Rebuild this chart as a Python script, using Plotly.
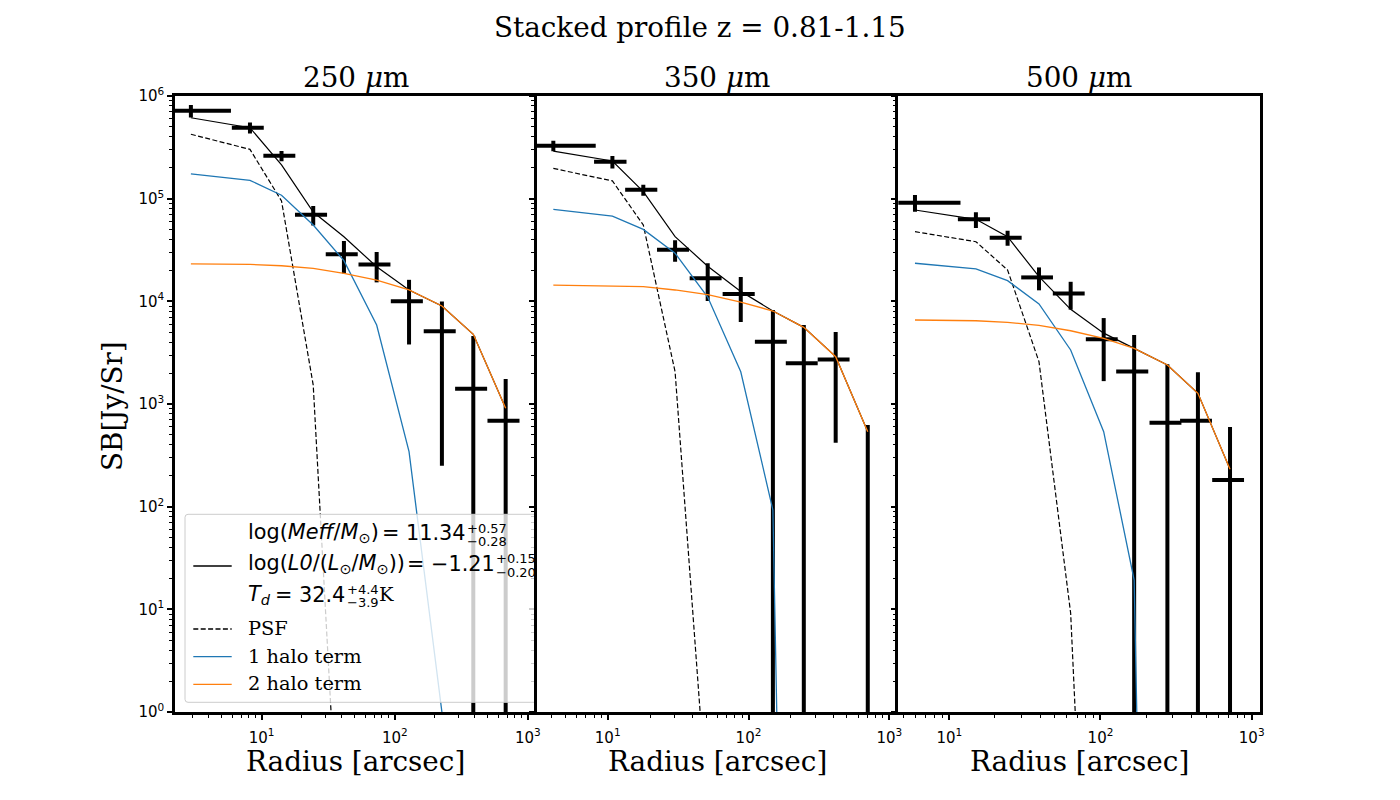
import plotly.graph_objects as go

# ---------------- data ----------------
# 250 micron
r250 = [2.94, 8.17, 14.1, 24.4, 41.5, 73.1, 128, 226, 389, 681]
xerr250 = [2.94, 2.2, 3.8, 6.6, 11.2, 19.7, 34.6, 61, 105, 184]
sb250 = [7.19e5, 4.91e5, 2.62e5, 6.98e4, 2.87e4, 2.28e4, 1.0e4, 5.1e3, 1.41e3, 687]
err250 = [1.0e5, 6.0e4, 3.0e4, 1.5e4, 1.0e4, 7.5e3, 6.2e3, 4.85e3, 3.18e3, 1.06e3]
tot250 = [6.14e5, 4.91e5, 2.13e5, 7.4e4, 4.26e4, 2.17e4, 1.29e4, 9.0e3, 4.77e3, 908]
halo1_250 = [1.74e5, 1.51e5, 1.08e5, 5.54e4, 2.49e4, 5.88e3, 343, 1.0, 0, 0]
halo2_250 = [2.32e4, 2.29e4, 2.22e4, 2.09e4, 1.87e4, 1.61e4, 1.29e4, 9.0e3, 4.77e3, 908]
psf250 = [4.24e5, 3.02e5, 9.5e4, 1.53e3, 5e-3, 0, 0, 0, 0, 0]

# 350 micron
r350 = [4.11, 10.8, 17.9, 30.1, 51.3, 88.1, 149, 247, 416, 703]
xerr350 = [4.11, 2.8, 4.6, 7.7, 13.1, 22.6, 38, 63, 106, 180]
sb350 = [3.28e5, 2.29e5, 1.22e5, 3.18e4, 1.68e4, 1.18e4, 4.04e3, 2.49e3, 2.72e3, -50]
err350 = [3.8e4, 3.2e4, 1.5e4, 7.5e3, 6.7e3, 5.5e3, 4.2e3, 3.4e3, 2.3e3, 674]
tot350 = [2.91e5, 2.33e5, 1.17e5, 4.26e4, 2.2e4, 1.25e4, 8.05e3, 5.58e3, 2.89e3, 537]
halo1_350 = [7.87e4, 6.77e4, 5.02e4, 2.94e4, 1.1e4, 2.06e3, 92.8, 0, 0, 0]
halo2_350 = [1.44e4, 1.42e4, 1.39e4, 1.29e4, 1.16e4, 9.84e3, 8.05e3, 5.58e3, 2.89e3, 537]
psf350 = [1.97e5, 1.49e5, 5.54e4, 2.06e3, 0.1, 0, 0, 0, 0, 0]

# 500 micron
r500 = [5.93, 15.0, 24.3, 39.2, 63.5, 105, 167, 277, 441, 719]
xerr500 = [5.93, 3.6, 5.8, 9.3, 15.1, 25, 40, 66, 105, 171]
sb500 = [9.14e4, 6.29e4, 4.17e4, 1.71e4, 1.19e4, 4.27e3, 2.07e3, 657, 687, 182]
err500 = [1.7e4, 1.1e4, 7e3, 4.3e3, 3.6e3, 2.6e3, 2.63e3, 1.78e3, 1.35e3, 415]
tot500 = [7.75e4, 6.29e4, 4.26e4, 1.74e4, 8.36e3, 4.9e3, 3.48e3, 2.40e3, 1.27e3, 231]
halo1_500 = [2.35e4, 2.07e4, 1.59e4, 9.42e3, 3.36e3, 537, 19.3, 0, 0, 0]
halo2_500 = [6.58e3, 6.47e3, 6.24e3, 5.83e3, 5.17e3, 4.36e3, 3.48e3, 2.40e3, 1.27e3, 231]
psf500 = [4.77e4, 3.81e4, 2.02e4, 2.58e3, 9.15, 1e-6, 0, 0, 0, 0]

panel_titles = ["250 <i>μ</i>m", "350 <i>μ</i>m", "500 <i>μ</i>m"]
suptitle = "Stacked profile z = 0.81-1.15"
xlabel = "Radius [arcsec]"
ylabel = "SB[Jy/Sr]"
x_tickvals = [10, 100, 1000]
x_ticktext = ["10<sup>1</sup>", "10<sup>2</sup>", "10<sup>3</sup>"]
y_tickvals = [1, 10, 100, 1000, 1e4, 1e5, 1e6]
y_ticktext = ["10<sup>%d</sup>" % k for k in range(7)]
legend_labels = {
    "meff": ("log(<i>Meff</i>/<i>M</i><sub>⊙</sub>)", "= 11.34", "+0.57", "−0.28"),
    "l0": ("log(<i>L0</i>/(<i>L</i><sub>⊙</sub>/<i>M</i><sub>⊙</sub>))", "= −1.21", "+0.15", "−0.20"),
    "td": ("<i>T<sub>d</sub></i>", "= 32.4", "+4.4", "−3.9"),
    "psf": "PSF", "h1": "1 halo term", "h2": "2 halo term",
}

# ---------------- layout helpers ----------------
W, H = 1400, 800
SERIF = "DejaVu Serif"
SANS = "DejaVu Sans"
BLUE = "#1f77b4"
ORANGE = "#ff7f0e"
FLOOR = 1e-30  # like matplotlib's clipping of non-positive values on log axes


def px(x):
    return x / W


def py(y):
    return 1 - y / H


def clip(v):
    return v if v > 0 else FLOOR


panels = [
    (r250, xerr250, sb250, err250, tot250, halo1_250, halo2_250, psf250),
    (r350, xerr350, sb350, err350, tot350, halo1_350, halo2_350, psf350),
    (r500, xerr500, sb500, err500, tot500, halo1_500, halo2_500, psf500),
]
x_ranges = [[0.349, 3.066], [0.4955, 3.064], [0.663, 3.055]]
edges = [175, 536.67, 898.33, 1260]
y_top, y_bot = 96, 712

fig = go.Figure()

for i, (r, xe, sb, er, tot, h1, h2, psf) in enumerate(panels):
    xa = "x" if i == 0 else "x%d" % (i + 1)
    ya = "y" if i == 0 else "y%d" % (i + 1)
    vx, vy, hx, hy = [], [], [], []
    for rr, xx, v, e in zip(r, xe, sb, er):
        vx += [rr, rr, None]
        vy += [clip(v - e), v + e, None]
        if v > 0:
            hx += [clip(rr - xx), rr + xx, None]
            hy += [v, v, None]
    common = dict(xaxis=xa, yaxis=ya, showlegend=False, hoverinfo="skip", mode="lines")
    fig.add_trace(go.Scatter(x=vx, y=vy, line=dict(color="black", width=4), **common))
    fig.add_trace(go.Scatter(x=hx, y=hy, line=dict(color="black", width=4), **common))
    fig.add_trace(go.Scatter(x=r, y=[clip(v) for v in tot], line=dict(color="black", width=1.2), **common))
    fig.add_trace(go.Scatter(x=r, y=[clip(v) for v in psf], line=dict(color="black", width=1.2, dash="5px,2.4px"), **common))
    fig.add_trace(go.Scatter(x=r, y=[clip(v) for v in h1], line=dict(color=BLUE, width=1.3), **common))
    fig.add_trace(go.Scatter(x=r, y=[clip(v) for v in h2], line=dict(color=ORANGE, width=1.3), **common))

x_minor = [k * 10 ** d for d in range(0, 4) for k in range(2, 10)]
y_minor = [k * 10 ** d for d in range(0, 6) for k in range(2, 10)]

layout = dict(
    template="none",
    width=W, height=H, autosize=False, margin=dict(l=0, r=0, t=0, b=0, pad=0, autoexpand=False),
    paper_bgcolor="white", plot_bgcolor="white", showlegend=False,
)
for i in range(3):
    sx = "" if i == 0 else str(i + 1)
    layout["xaxis" + sx] = dict(
        type="log", range=x_ranges[i], domain=[px(edges[i]), px(edges[i + 1])],
        anchor="y" + sx, automargin=False, showline=True, linecolor="black", linewidth=2.5, mirror=True,
        ticks="outside", ticklen=5, tickwidth=1.5, tickcolor="black",
        tickmode="array", tickvals=x_tickvals, ticktext=x_ticktext, ticklabelstandoff=5,
        tickfont=dict(family=SANS, size=15, color="black"),
        showgrid=False, zeroline=False,
        minor=dict(ticks="outside", ticklen=3, tickwidth=1.2, tickcolor="black",
                   tickmode="array", tickvals=x_minor, showgrid=False),
    )
    layout["yaxis" + sx] = dict(
        type="log", range=[0, 6], domain=[py(y_bot), py(y_top)],
        anchor="x" + sx, automargin=False, showline=True, linecolor="black", linewidth=2.5,
        mirror=(i == 2), ticks="outside", ticklen=5, tickwidth=1.5, tickcolor="black",
        tickmode="array", tickvals=y_tickvals, ticktext=y_ticktext,
        showticklabels=(i == 0),
        tickfont=dict(family=SANS, size=15, color="black"),
        showgrid=False, zeroline=False,
        minor=dict(ticks="outside", ticklen=3, tickwidth=1.2, tickcolor="black",
                   tickmode="array", tickvals=y_minor, showgrid=False),
    )
fig.update_layout(**layout)

ann = []


def text(x, y, s, family=SERIF, size=27.8, xanchor="center", angle=0):
    ann.append(dict(x=px(x), y=py(y), xref="paper", yref="paper", text=s, showarrow=False,
                    xanchor=xanchor, yanchor="middle", textangle=angle, borderpad=0, borderwidth=0,
                    font=dict(family=family, size=size, color="black")))


text(700, 27.6, suptitle)
for i in range(3):
    cx = (edges[i] + edges[i + 1]) / 2
    text(cx, 77.6, panel_titles[i])
    text(cx, 761, xlabel)
text(113, 406, ylabel, angle=-90)

# ---------------- legend (drawn by hand, lives inside panel 1) ----------------
shapes = []
L, R, T, B = 185, 534, 514.3, 702.3
rad = 3
shapes.append(dict(type="rect", xref="paper", yref="paper", x0=px(L), x1=px(R), y0=py(B), y1=py(T),
                   fillcolor="rgba(255,255,255,0.8)", line=dict(width=0), layer="above"))
path = ("M %f,%f L %f,%f Q %f,%f %f,%f L %f,%f Q %f,%f %f,%f L %f,%f" % (
    px(R), py(T), px(L + rad), py(T), px(L), py(T), px(L), py(T + rad),
    px(L), py(B - rad), px(L), py(B), px(L + rad), py(B), px(R), py(B)))
shapes.append(dict(type="path", xref="paper", yref="paper", path=path,
                   line=dict(color="#cccccc", width=1), layer="above"))
hx0, hx1 = 193.3, 231.7
for yy, col, dash in [(566, "black", "solid"), (629, "black", "5px,2.4px"),
                      (656.7, BLUE, "solid"), (684.3, ORANGE, "solid")]:
    shapes.append(dict(type="line", xref="paper", yref="paper", x0=px(hx0), x1=px(hx1),
                       y0=py(yy), y1=py(yy), line=dict(color=col, width=1.3, dash=dash), layer="above"))
fig.update_layout(shapes=shapes)

tx = 248.3
LS = 19.4
MS = 20.8
SS = 13.0
rows = [("meff", 533.2, 466.0, 528.3, 541.3), ("l0", 563.9, 494.5, 558.6, 572.0),
        ("td", 594.9, 345.0, 589.8, 602.8)]
for key, yc, xend, ysup, ysub in rows:
    left, right, sup, sub = legend_labels[key]
    text(tx, yc, left, family=SANS, size=MS, xanchor="left")
    text(xend, yc, right, family=SANS, size=MS, xanchor="right")
    text(xend + 1.5, ysup, sup, family=SANS, size=SS, xanchor="left")
    text(xend + 1.5, ysub, sub, family=SANS, size=SS, xanchor="left")
text(379, 594.9, "K", family=SERIF, size=LS, xanchor="left")
text(tx, 628.2, legend_labels["psf"], family=SERIF, size=LS, xanchor="left")
text(tx, 656.5, legend_labels["h1"], family=SERIF, size=LS, xanchor="left")
text(tx, 683.2, legend_labels["h2"], family=SERIF, size=LS, xanchor="left")

fig.update_layout(annotations=ann)
fig.write_html(
    "out.html",
    config={"responsive": False, "displayModeBar": False},
    post_script=(
        "var d=document.getElementById('{plot_id}');"
        "d.style.position='fixed';d.style.left='0px';d.style.top='0px';"
        "document.body.style.margin='0';document.body.style.overflow='hidden';"
        "document.documentElement.style.overflow='hidden';"
    ),
)
